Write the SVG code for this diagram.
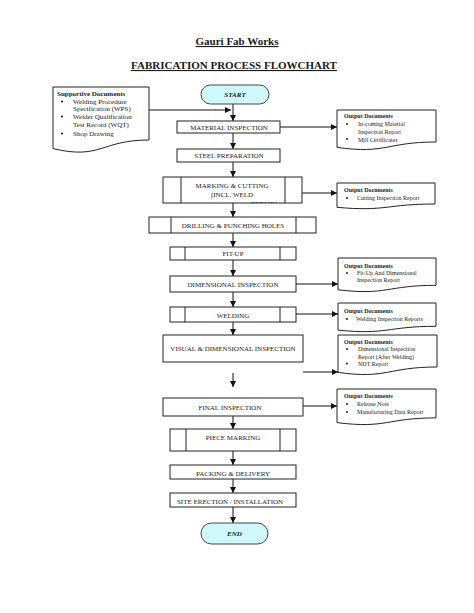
<svg xmlns="http://www.w3.org/2000/svg" width="474" height="613" viewBox="0 0 474 613">
<style>
.t{font-family:"Liberation Serif","Times New Roman",serif;fill:#1a1a1a}
.title{font-size:11px;font-weight:bold;text-anchor:middle;text-decoration:underline}
.lbl{font-size:7px;text-anchor:middle}
.term{font-size:7px;font-weight:bold;font-style:italic;text-anchor:middle}
.hd{font-size:6px;font-weight:bold}
.it{font-size:6px}
.sh{font-size:7px;font-weight:bold}
.si{font-size:7px}
.box{fill:#fff;stroke:#222;stroke-width:1}
.doc{fill:#fff;stroke:#222;stroke-width:1}
.pill{fill:#cff8fb;stroke:#444;stroke-width:1}
.ln{stroke:#222;stroke-width:1;fill:none}
.c{stroke:#111;stroke-width:1;fill:none;marker-end:url(#ah)}
.b{fill:#1a1a1a}
</style>
<defs>
<marker id="ah" viewBox="0 0 6 6" refX="6" refY="3" markerWidth="6" markerHeight="6" markerUnits="userSpaceOnUse" orient="auto">
<path d="M0,0 L6,3 L0,6 Z" fill="#111"/>
</marker>
<clipPath id="cpMat"><path d="M337,110 H436 V142 C386.5,142 386.5,154.3 337,147.4 Z"/></clipPath>
<clipPath id="cpMark"><rect x="181" y="178" width="104" height="25"/></clipPath>
</defs>
<rect width="474" height="613" fill="#fff"/>

<g id="title">
<text class="t title" x="237" y="45">Gauri Fab Works</text>
<text class="t title" x="234" y="69">FABRICATION PROCESS FLOWCHART</text>
</g>

<g id="connectors">
<path class="c" d="M149,110 H231"/>
<path class="c" d="M233,104 V121"/>
<path class="c" d="M233,133 V149"/>
<path class="c" d="M233,162 V177"/>
<path class="c" d="M233,203 V217"/>
<path class="c" d="M233,233 V247"/>
<path class="c" d="M233,260 V276"/>
<path class="c" d="M233,292 V307"/>
<path class="c" d="M233,322 V335"/>
<path class="c" d="M233,373 V387"/>
<path class="c" d="M233,416 V429"/>
<path class="c" d="M233,451 V465"/>
<path class="c" d="M233,479 V493"/>
<path class="c" d="M233,507 V523"/>
<path class="c" d="M280,127 H337"/>
<path class="c" d="M302,193 H337"/>
<path class="c" d="M296,284 H338"/>
<path class="c" d="M296,314 H338"/>
<path class="c" d="M303,372 H338"/>
<path class="c" d="M303,406 H337"/>
</g>

<g id="supportive">
<path class="doc" d="M53,87 H149 V140 C101,140 101,160 53,148.6 Z"/>
<text class="t sh" x="57" y="96">Supportive Documents</text>
<circle class="b" cx="62" cy="101.5" r="1.1"/>
<text class="t si" x="73" y="104">Welding Procedure</text>
<text class="t si" x="73" y="111">Specification (WPS)</text>
<circle class="b" cx="62" cy="116.5" r="1.1"/>
<text class="t si" x="73" y="119">Welder Qualification</text>
<text class="t si" x="73" y="127">Test Record (WQT)</text>
<circle class="b" cx="62" cy="133.5" r="1.1"/>
<text class="t si" x="73" y="136">Shop Drawing</text>
</g>

<g id="start">
<rect class="pill" x="201" y="85" width="68" height="19" rx="9.5"/>
<text class="t term" x="235" y="97">START</text>
</g>

<g id="material">
<rect class="box" x="177" y="121" width="103" height="12"/>
<text class="t lbl" x="229" y="129.5">MATERIAL INSPECTION</text>
</g>

<g id="out-material">
<path class="doc" d="M337,110 H436 V142 C386.5,142 386.5,154.3 337,147.4 Z"/>
<g clip-path="url(#cpMat)">
<text class="t hd" x="344" y="118">Output Documents</text>
<circle class="b" cx="347" cy="124" r="1"/>
<text class="t it" x="358" y="126">In-coming Material</text>
<text class="t it" x="358" y="133.5">Inspection Report</text>
<circle class="b" cx="347" cy="139" r="1"/>
<text class="t it" x="358" y="141.5">Mill Certificates</text>
</g>
</g>

<g id="steel">
<rect class="box" x="177" y="149" width="103" height="13"/>
<text class="t lbl" x="229" y="158">STEEL PREPARATION</text>
</g>

<g id="marking">
<rect class="box" x="163" y="177" width="139" height="26"/>
<path class="ln" d="M181,177 V203 M285,177 V203"/>
<text class="t lbl" x="232" y="187.5">MARKING &amp; CUTTING</text>
<text class="t lbl" x="232" y="196.5">(INCL. WELD</text>
<g clip-path="url(#cpMark)"><text class="t lbl" x="264" y="205.5">REPAIR)</text></g>
</g>

<g id="out-marking">
<path class="doc" d="M337,183 H435 V204 C386,204 386,211.8 337,207.3 Z"/>
<text class="t hd" x="344" y="192">Output Documents</text>
<circle class="b" cx="347" cy="198" r="1"/>
<text class="t it" x="357" y="200">Cutting Inspection Report</text>
</g>

<g id="drilling">
<rect class="box" x="149" y="217" width="167" height="16"/>
<path class="ln" d="M171,217 V233 M296,217 V233"/>
<text class="t lbl" x="233" y="227.5">DRILLING &amp; PUNCHING HOLES</text>
</g>

<g id="fitup">
<rect class="box" x="170" y="247" width="126" height="13"/>
<path class="ln" d="M185,247 V260 M280,247 V260"/>
<text class="t lbl" x="233" y="256">FIT-UP</text>
</g>

<g id="dimensional">
<rect class="box" x="170" y="276" width="126" height="16"/>
<text class="t lbl" x="233" y="286.5">DIMENSIONAL INSPECTION</text>
</g>

<g id="out-dimensional">
<path class="doc" d="M338,258 H436 V285.3 C387,285.3 387,295.6 338,289.8 Z"/>
<text class="t hd" x="344" y="268">Output Documents</text>
<circle class="b" cx="347" cy="273" r="1"/>
<text class="t it" x="357" y="275">Fit-Up And Dimensional</text>
<text class="t it" x="357" y="282">Inspection Report</text>
</g>

<g id="welding">
<rect class="box" x="170" y="307" width="126" height="15"/>
<path class="ln" d="M185,307 V322 M280,307 V322"/>
<text class="t lbl" x="233" y="317.5">WELDING</text>
</g>

<g id="out-welding">
<path class="doc" d="M338,303 H436 V326.3 C387,326.3 387,335.1 338,330.1 Z"/>
<text class="t hd" x="344" y="313">Output Documents</text>
<circle class="b" cx="347" cy="319" r="1"/>
<text class="t it" x="356" y="321">Welding Inspection Reports</text>
</g>

<g id="visual">
<rect class="box" x="163" y="335" width="140" height="27"/>
<text class="t lbl" x="233" y="350.5">VISUAL &amp; DIMENSIONAL INSPECTION</text>
</g>

<g id="out-visual">
<path class="doc" d="M338,335 H437 V367 C387.5,367 387.5,379.3 338,372.4 Z"/>
<text class="t hd" x="344" y="344">Output Documents</text>
<circle class="b" cx="347" cy="349" r="1"/>
<text class="t it" x="358" y="351">Dimensional Inspection</text>
<text class="t it" x="358" y="359">Report (After Welding)</text>
<circle class="b" cx="347" cy="363.5" r="1"/>
<text class="t it" x="358" y="365.5">NDT Report</text>
</g>

<g id="final">
<rect class="box" x="163" y="398" width="140" height="18"/>
<text class="t lbl" x="230" y="409.5">FINAL INSPECTION</text>
</g>

<g id="out-final">
<path class="doc" d="M337,389 H436 V417.9 C386.5,417.9 386.5,428.9 337,422.6 Z"/>
<text class="t hd" x="344" y="398">Output Documents</text>
<circle class="b" cx="347" cy="404" r="1"/>
<text class="t it" x="357" y="406">Release Note</text>
<circle class="b" cx="347" cy="412" r="1"/>
<text class="t it" x="357" y="414">Manufacturing Data Report</text>
</g>

<g id="piece">
<rect class="box" x="170" y="429" width="126" height="22"/>
<path class="ln" d="M186,429 V451 M280,429 V451"/>
<text class="t lbl" x="233" y="439.5">PIECE MARKING</text>
</g>

<g id="packing">
<rect class="box" x="170" y="465" width="126" height="14"/>
<text class="t lbl" x="233" y="475.5">PACKING &amp; DELIVERY</text>
</g>

<g id="site">
<rect class="box" x="170" y="493" width="126" height="14"/>
<text class="t lbl" x="230" y="503.5">SITE ERECTION / INSTALLATION</text>
</g>

<g id="end">
<rect class="pill" x="201" y="523" width="67" height="21" rx="10.5"/>
<text class="t term" x="234.5" y="535.5">END</text>
</g>
</svg>
